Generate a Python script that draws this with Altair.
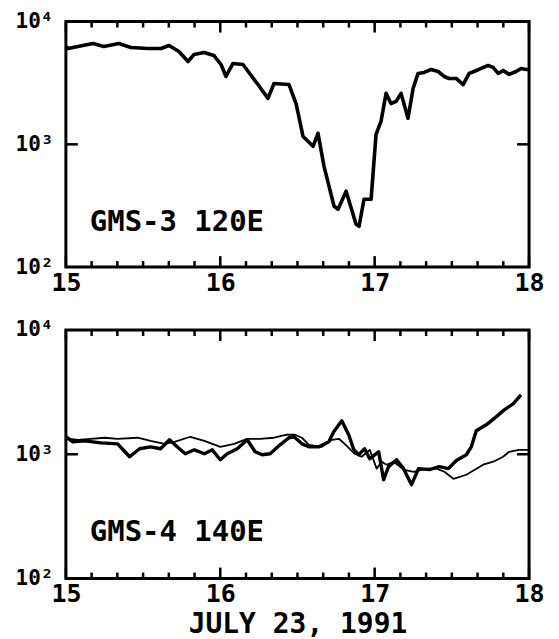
import altair as alt
import pandas as pd

# ---- data ----
top_day = [15.00, 15.013, 15.078, 15.175, 15.246, 15.343, 15.421, 15.531, 15.616, 15.668,
           15.732, 15.791, 15.830, 15.894, 15.959, 16.005, 16.037, 16.082, 16.147, 16.244,
           16.309, 16.348, 16.445, 16.491, 16.536, 16.601, 16.633, 16.672, 16.737, 16.763,
           16.815, 16.879, 16.899, 16.931, 16.977, 17.009, 17.041, 17.074, 17.106, 17.139,
           17.171, 17.216, 17.249, 17.281, 17.320, 17.366, 17.411, 17.450, 17.482, 17.528,
           17.573, 17.612, 17.644, 17.690, 17.735, 17.767, 17.800, 17.832, 17.871, 17.916,
           17.949, 17.981, 18.000]
top_val = [6270, 6030, 6270, 6620, 6270, 6620, 6150, 6030, 6030, 6380,
           5700, 4730, 5390, 5600, 5290, 4470, 3570, 4560, 4470, 3070,
           2370, 3130, 3070, 2150, 1160, 963, 1230, 662, 313, 296,
           415, 224, 215, 357, 357, 1205, 1540, 2600, 2150, 2240,
           2600, 1630, 2850, 3780, 3850, 4070, 3920, 3570, 3440, 3440,
           3070, 3780, 3920, 4150, 4390, 4230, 3780, 4000, 3710, 3920,
           4150, 4070, 4070]

thick_day = [15.00, 15.045, 15.123, 15.226, 15.335, 15.413, 15.477, 15.548, 15.613, 15.671,
             15.735, 15.774, 15.832, 15.897, 15.948, 16.000, 16.045, 16.110, 16.174, 16.226,
             16.271, 16.323, 16.387, 16.445, 16.477, 16.529, 16.574, 16.639, 16.703, 16.735,
             16.787, 16.832, 16.865, 16.897, 16.935, 16.968, 17.026, 17.058, 17.090, 17.142,
             17.187, 17.239, 17.284, 17.355, 17.419, 17.477, 17.529, 17.594, 17.626, 17.658,
             17.723, 17.787, 17.839, 17.897, 17.948]
thick_val = [1383, 1259, 1283, 1236, 1213, 955, 1107, 1148, 1107, 1307,
             1107, 1009, 1086, 1009, 1086, 904, 1009, 1107, 1307, 1047,
             991, 1009, 1191, 1358, 1383, 1213, 1148, 1148, 1259, 1517,
             1857, 1436, 1086, 991, 1107, 921, 1047, 624, 795, 904,
             766, 569, 766, 752, 795, 766, 890, 991, 1148, 1545,
             1726, 2000, 2275, 2545, 3006]

thin_day = [15.00, 15.026, 15.077, 15.161, 15.252, 15.335, 15.465, 15.548, 15.639, 15.703,
            15.806, 15.897, 16.000, 16.090, 16.174, 16.258, 16.348, 16.432, 16.484, 16.529,
            16.574, 16.658, 16.723, 16.768, 16.806, 16.871, 16.916, 16.968, 17.013, 17.045,
            17.077, 17.123, 17.187, 17.252, 17.335, 17.400, 17.452, 17.510, 17.594, 17.703,
            17.768, 17.832, 17.871, 17.935, 18.000]
thin_val = [1400, 1332, 1307, 1332, 1358, 1332, 1358, 1283, 1213, 1259,
            1383, 1283, 1148, 1213, 1332, 1332, 1358, 1436, 1436, 1358,
            1191, 1148, 1307, 1332, 1213, 1009, 955, 1086, 766, 871,
            824, 871, 752, 723, 766, 766, 723, 635, 684, 824,
            871, 955, 1047, 1086, 1086]

x_labels = [15, 16, 17, 18]
y_labels = [100, 1000, 10000]
panel_titles = ["GMS-3 120E", "GMS-4 140E"]
x_title = "JULY 23, 1991"

FONT = "DejaVu Sans Mono"
X_DOM = [15, 18]
Y_DOM = [100, 10000]
W = 464

major_ticks = pd.DataFrame({"d": x_labels})
minor_ticks = pd.DataFrame({"d": [15 + i / 6 for i in range(19) if i % 6 != 0]})
ytick = pd.DataFrame({"v": [1000]})


def xs():
    return alt.Scale(domain=X_DOM, nice=False, zero=False)


def ys():
    return alt.Scale(type="log", domain=Y_DOM, nice=False)


def panel(lines, label, H, title):
    x_axis = alt.Axis(values=x_labels, format="d", labelFontSize=25, labelFont=FONT,
                      labelFontWeight="bold", labelColor="black", ticks=False, tickSize=0,
                      domain=False, grid=False, labelPadding=3, labelFlush=False,
                      title=title if title else "", titleFont=FONT, titleFontSize=28,
                      titleFontWeight="bold", titleColor="black", titlePadding=4)
    y_axis = alt.Axis(values=y_labels,
                      labelExpr="datum.value == 100 ? '10²' : datum.value == 1000 ? '10³' : '10⁴'",
                      labelFontSize=21, labelFont=FONT, labelFontWeight="bold", labelColor="black",
                      ticks=False, tickSize=0, domain=False, grid=False, labelPadding=13,
                      labelFlush=False, title="")

    def X():
        return alt.X("d:Q", scale=xs(), axis=x_axis)

    def Y():
        return alt.Y("v:Q", scale=ys(), axis=y_axis)

    layers = []
    for df, sw in lines:
        layers.append(
            alt.Chart(df).mark_line(color="black", strokeWidth=sw, strokeJoin="round").encode(
                x=X(), y=Y()))
    # inward ticks
    for data, ln in [(major_ticks, 11), (minor_ticks, 6)]:
        layers.append(alt.Chart(data).mark_rule(color="black", strokeWidth=2.5).encode(
            x=X(), y=alt.value(0), y2=alt.value(ln)))
        layers.append(alt.Chart(data).mark_rule(color="black", strokeWidth=2.5).encode(
            x=X(), y=alt.value(H), y2=alt.value(H - ln)))
    layers.append(alt.Chart(ytick).mark_rule(color="black", strokeWidth=2.5).encode(
        y=Y(), x=alt.value(0), x2=alt.value(12)))
    layers.append(alt.Chart(ytick).mark_rule(color="black", strokeWidth=2.5).encode(
        y=Y(), x=alt.value(W - 12), x2=alt.value(W)))
    lab = pd.DataFrame({"d": [15.155], "v": [235], "t": [label]})
    layers.append(alt.Chart(lab).mark_text(font=FONT, fontSize=29, fontWeight="bold",
                                           align="left", baseline="middle", color="black").encode(
        x=X(), y=Y(), text="t:N"))
    return alt.layer(*layers).properties(width=W, height=H)


top_df = pd.DataFrame({"d": top_day, "v": top_val})
thick_df = pd.DataFrame({"d": thick_day, "v": thick_val})
thin_df = pd.DataFrame({"d": thin_day, "v": thin_val})

top = panel([(top_df, 3.6)], panel_titles[0], 246, None)
bottom = panel([(thick_df, 3.4), (thin_df, 1.8)], panel_titles[1], 249, x_title)

chart = alt.vconcat(top, bottom, spacing=63, bounds="flush").properties(
    padding={"left": 5, "top": 0, "right": 5, "bottom": 2},
    background="white",
).configure_view(stroke="black", strokeWidth=3)

chart.save("out.html", embed_options={"renderer": "svg", "actions": False})
